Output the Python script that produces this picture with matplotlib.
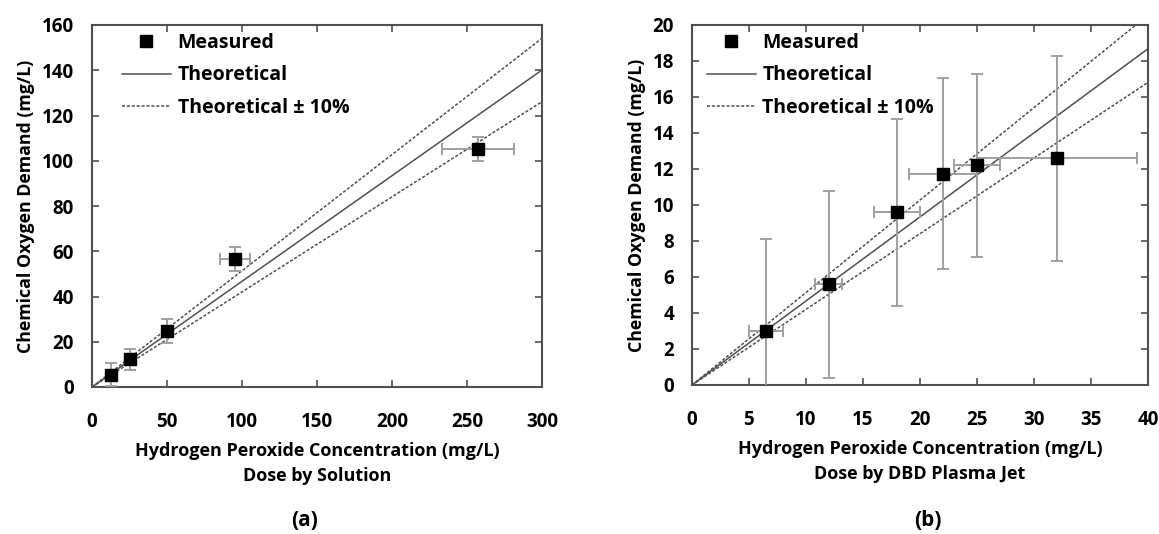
import matplotlib
matplotlib.use("Agg")
import matplotlib.pyplot as plt
import numpy as np

plt.rcParams['font.family'] = ['Open Sans', 'DejaVu Sans']

slope = 0.467

# Panel (a): dose by solution
a_x = [12.5, 25.5, 50, 95.5, 257]
a_y = [5.5, 12.2, 24.6, 56.6, 105]
a_xerr = [1.5, 1.5, 1.5, 10, 24]
a_yerr = [5.2, 4.8, 5.3, 5.2, 5.3]

# Panel (b): dose by DBD plasma jet
b_x = [6.5, 12, 18, 22, 25, 32]
b_y = [3.0, 5.6, 9.6, 11.75, 12.2, 12.6]
b_xerr = [1.5, 1.2, 2.0, 3.0, 2.0, 7.0]
b_yerr = [5.1, 5.2, 5.2, 5.3, 5.1, 5.7]

W, H = 1159, 534

panels = [
    dict(x=a_x, y=a_y, xerr=a_xerr, yerr=a_yerr, xlim=(0, 300), ylim=(0, 160),
         xticks=np.arange(0, 301, 50), yticks=np.arange(0, 161, 20),
         sub="Dose by Solution", tag="(a)", box=(92, 542, 25, 387), legx=0.067,
         tagx=305),
    dict(x=b_x, y=b_y, xerr=b_xerr, yerr=b_yerr, xlim=(0, 40), ylim=(0, 20),
         xticks=np.arange(0, 41, 5), yticks=np.arange(0, 21, 2),
         sub="Dose by DBD Plasma Jet", tag="(b)", box=(692, 1148, 25, 385), legx=0.033,
         tagx=928),
]

fig = plt.figure(figsize=(W / 100, H / 100), dpi=100)

for p in panels:
    l, r, t, b = p['box']
    ax = fig.add_axes([l / W, (H - b) / H, (r - l) / W, (b - t) / H])
    xs = np.linspace(p['xlim'][0], p['xlim'][1], 200)
    ax.plot(xs, slope * xs, color='#505050', lw=1.1, label='Theoretical', zorder=2)
    ax.plot(xs, slope * 1.1 * xs, color='#505050', lw=1.1, ls=(0, (2, 1.2)),
            label='Theoretical \u00b1 10%', zorder=2)
    ax.plot(xs, slope * 0.9 * xs, color='#505050', lw=1.1, ls=(0, (2, 1.2)), zorder=2)
    ax.errorbar(p['x'], p['y'], xerr=p['xerr'], yerr=p['yerr'], fmt='none',
                ecolor='#a0a0a0', elinewidth=1.4, capsize=4, capthick=1.4, zorder=3)
    ax.plot(p['x'], p['y'], ls='none', marker='s', ms=8.5, color='black',
            label='Measured', zorder=4)
    ax.set_xlim(*p['xlim'])
    ax.set_ylim(*p['ylim'])
    ax.set_xticks(p['xticks'])
    ax.set_yticks(p['yticks'])
    ax.tick_params(direction='in', length=5, width=1.2, top=True, right=True,
                   labelsize=13.5, color='#505050')
    ax.tick_params(axis='x', pad=18)
    ax.tick_params(axis='y', pad=13)
    for lbl in ax.get_xticklabels() + ax.get_yticklabels():
        lbl.set_fontweight('bold')
    for s in ax.spines.values():
        s.set_linewidth(1.5)
        s.set_color('#505050')
    ax.set_xlabel("Hydrogen Peroxide Concentration (mg/L)\n" + p['sub'],
                  fontsize=13, fontweight='bold', labelpad=7, linespacing=1.55)
    ax.set_ylabel("Chemical Oxygen Demand (mg/L)", fontsize=12.8, fontweight='bold',
                  labelpad=5)
    h, lb = ax.get_legend_handles_labels()
    order = [2, 0, 1]
    ax.legend([h[i] for i in order], [lb[i] for i in order], loc='upper left',
              bbox_to_anchor=(p['legx'], 0.979), frameon=False, handlelength=2.5,
              labelspacing=0.66, prop=dict(weight='bold', size=14),
              handletextpad=0.35, borderpad=0, borderaxespad=0)
    fig.text(p['tagx'] / W, 1 - 520 / H, p['tag'], ha='center', va='center',
             fontsize=15, fontweight='bold')

fig.savefig("out.png", dpi=100)
